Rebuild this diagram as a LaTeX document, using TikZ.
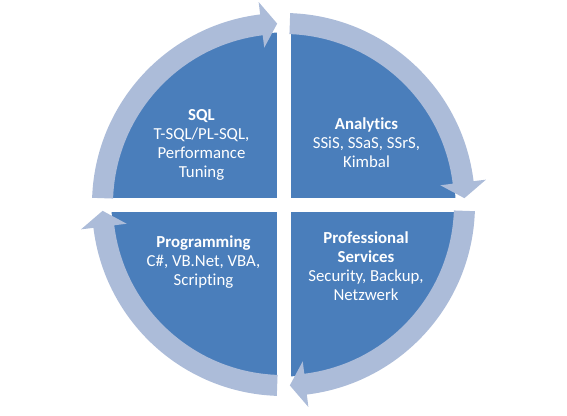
\documentclass[tikz,border=0pt]{standalone}
\usepackage{fontspec}
\setmainfont[Ligatures=CommonOff]{Carlito}
\definecolor{quadblue}{RGB}{74,126,187}
\definecolor{ringblue}{RGB}{172,188,217}
\usetikzlibrary{calc}

\begin{document}
\begin{tikzpicture}[x=1pt, y=1pt,
  quad/.style={fill=quadblue},
  ringarrow/.style={fill=ringblue},
  txt/.style={text=white, align=center, inner sep=0pt,
    font=\fontsize{16.8}{19}\selectfont},
]
  \useasboundingbox (-283.5,-210.5) rectangle (283.5,204.5);
  % four quadrants
  \begin{scope}
    \clip (0,0) circle[radius=172];
    \fill[quad] (7,7) rectangle (200,200);
    \fill[quad] (-7,7) rectangle (-200,200);
    \fill[quad] (-7,-7) rectangle (-200,-200);
    \fill[quad] (7,-7) rectangle (200,-200);
  \end{scope}
  % clockwise arrows round the ring
  \foreach \o in {0,-90,-180,-270}{
    \fill[ringarrow] (178+\o:191.5) arc[start angle=178+\o, end angle=97+\o, radius=191.5]
      -- (97+\o:204) -- (92+\o:181) -- (97+\o:158) -- (97+\o:170.5)
      arc[start angle=97+\o, end angle=178+\o, radius=170.5] -- cycle;
  }
  \node[txt] (sql) at (-82,60) {\textbf{SQL}\\T-SQL/PL-SQL,\\Performance\\Tuning};
  \node[txt] (analytics) at (83,62) {\textbf{Analytics}\\SSiS, SSaS, SSrS,\\Kimbal};
  \node[txt] (programming) at (-80,-58) {\textbf{Programming}\\C\#, VB.Net, VBA,\\Scripting};
  \node[txt] (services) at (82.5,-61.5) {\textbf{Professional}\\\textbf{Services}\\Security, Backup,\\Netzwerk};
\end{tikzpicture}
\end{document}
